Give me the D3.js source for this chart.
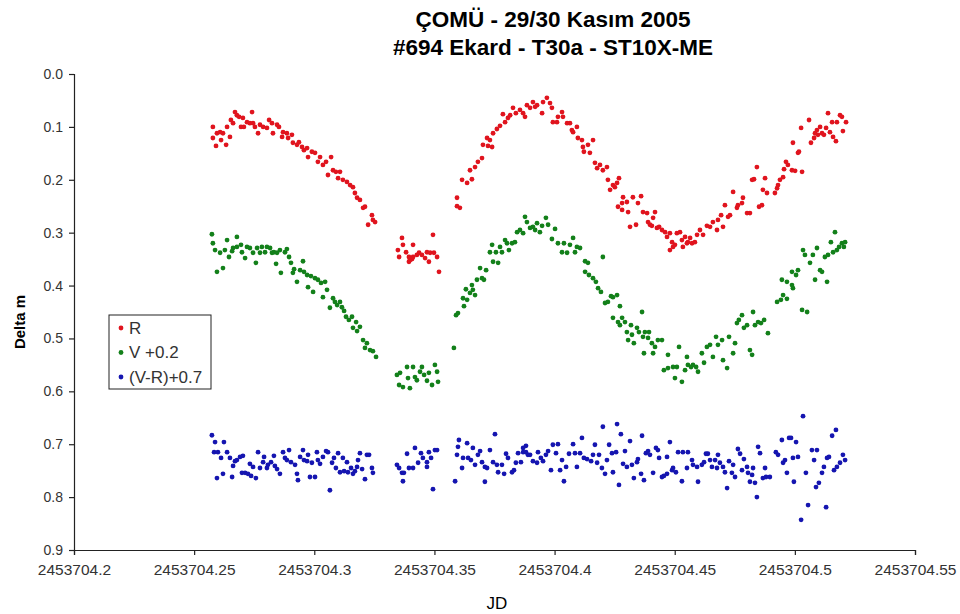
<!DOCTYPE html>
<html><head><meta charset="utf-8">
<script src="https://cdn.jsdelivr.net/npm/d3@7"></script>
<style>body{margin:0;background:#fff;} svg text{font-family:Arial,"Liberation Sans",sans-serif;}</style>
</head><body><svg id="c" width="960" height="614"></svg>
<script>
const titleLines = ["ÇOMÜ - 29/30 Kasım 2005", "#694 Ekard - T30a - ST10X-ME"];
const xTitle = "JD";
const yTitle = "Delta m";
const xTicks = [2453704.2, 2453704.25, 2453704.3, 2453704.35, 2453704.4, 2453704.45, 2453704.5, 2453704.55];
const yTicks = [0.0, 0.1, 0.2, 0.3, 0.4, 0.5, 0.6, 0.7, 0.8, 0.9];
const seriesNames = ["R", "V +0.2", "(V-R)+0.7"];

// R  [JD, delta m]
const rData = [
[2453704.2578,0.100],[2453704.2578,0.121],[2453704.2591,0.136],[2453704.2595,0.112],[2453704.2608,0.110],[2453704.2612,0.125],[2453704.2620,0.112],[2453704.2633,0.134],[2453704.2637,0.100],[2453704.2649,0.119],
[2453704.2653,0.087],[2453704.2662,0.093],[2453704.2670,0.072],[2453704.2678,0.078],[2453704.2687,0.081],[2453704.2695,0.100],[2453704.2703,0.083],[2453704.2707,0.100],[2453704.2720,0.091],[2453704.2732,0.093],
[2453704.2741,0.072],[2453704.2745,0.093],[2453704.2753,0.100],[2453704.2766,0.112],[2453704.2774,0.096],[2453704.2787,0.100],[2453704.2803,0.102],[2453704.2812,0.087],[2453704.2824,0.093],[2453704.2828,0.112],
[2453704.2845,0.096],[2453704.2853,0.100],[2453704.2866,0.119],[2453704.2870,0.110],[2453704.2886,0.112],[2453704.2891,0.121],[2453704.2907,0.115],[2453704.2911,0.130],[2453704.2928,0.134],[2453704.2936,0.129],
[2453704.2949,0.138],[2453704.2957,0.144],[2453704.2970,0.140],[2453704.2974,0.157],[2453704.2990,0.147],[2453704.3003,0.149],[2453704.3015,0.166],[2453704.3024,0.157],[2453704.3036,0.172],[2453704.3049,0.166],
[2453704.3057,0.191],[2453704.3070,0.157],[2453704.3078,0.182],[2453704.3090,0.185],[2453704.3099,0.197],[2453704.3107,0.185],[2453704.3119,0.200],[2453704.3136,0.204],[2453704.3149,0.210],[2453704.3161,0.214],
[2453704.3169,0.225],[2453704.3178,0.234],[2453704.3190,0.238],[2453704.3203,0.253],[2453704.3211,0.251],[2453704.3224,0.285],[2453704.3240,0.267],[2453704.3244,0.276],[2453704.3253,0.280],
[2453704.3365,0.310],[2453704.3369,0.323],[2453704.3348,0.333],[2453704.3353,0.346],[2453704.3382,0.337],[2453704.3398,0.352],[2453704.3394,0.346],[2453704.3411,0.323],[2453704.3411,0.346],[2453704.3427,0.342],
[2453704.3436,0.338],[2453704.3448,0.342],[2453704.3461,0.348],[2453704.3469,0.337],[2453704.3477,0.355],[2453704.3482,0.338],[2453704.3494,0.304],[2453704.3498,0.338],[2453704.3511,0.346],[2453704.3519,0.374],
[2453704.3394,0.355],[2453704.3407,0.350],
[2453704.3594,0.234],[2453704.3594,0.250],[2453704.3606,0.253],[2453704.3615,0.200],[2453704.3636,0.206],[2453704.3656,0.199],[2453704.3648,0.182],[2453704.3669,0.176],[2453704.3681,0.166],[2453704.3698,0.159],
[2453704.3702,0.134],[2453704.3723,0.136],[2453704.3740,0.138],[2453704.3719,0.121],[2453704.3731,0.125],[2453704.3744,0.112],[2453704.3760,0.104],[2453704.3773,0.098],[2453704.3785,0.076],[2453704.3794,0.091],
[2453704.3806,0.083],[2453704.3815,0.078],[2453704.3827,0.064],[2453704.3839,0.074],[2453704.3856,0.068],[2453704.3869,0.074],[2453704.3877,0.081],[2453704.3885,0.059],[2453704.3898,0.064],[2453704.3910,0.053],
[2453704.3919,0.062],[2453704.3927,0.059],[2453704.3948,0.074],[2453704.3952,0.053],[2453704.3968,0.045],[2453704.3981,0.055],[2453704.3989,0.064],[2453704.3993,0.091],[2453704.4010,0.091],[2453704.4014,0.081],
[2453704.4031,0.072],[2453704.4035,0.081],[2453704.4052,0.093],[2453704.4064,0.093],[2453704.4072,0.106],[2453704.4077,0.110],[2453704.4093,0.100],[2453704.4097,0.121],[2453704.4114,0.125],[2453704.4118,0.138],
[2453704.4122,0.147],[2453704.4139,0.134],[2453704.4147,0.149],[2453704.4160,0.125],[2453704.4168,0.168],[2453704.4177,0.178],[2453704.4189,0.172],[2453704.4201,0.182],[2453704.4218,0.176],[2453704.4222,0.200],
[2453704.4231,0.219],[2453704.4243,0.210],[2453704.4260,0.206],[2453704.4268,0.197],[2453704.4264,0.251],[2453704.4281,0.244],[2453704.4285,0.233],[2453704.4301,0.242],[2453704.4306,0.261],[2453704.4314,0.289],
[2453704.4326,0.233],[2453704.4339,0.285],[2453704.4347,0.244],[2453704.4251,0.214],[2453704.4281,0.257],
[2453704.4360,0.231],[2453704.4368,0.261],[2453704.4385,0.263],[2453704.4389,0.280],[2453704.4397,0.285],[2453704.4410,0.272],[2453704.4418,0.261],[2453704.4405,0.287],[2453704.4426,0.291],[2453704.4435,0.289],
[2453704.4447,0.295],[2453704.4460,0.299],[2453704.4468,0.308],[2453704.4480,0.301],[2453704.4489,0.318],[2453704.4493,0.327],[2453704.4509,0.301],[2453704.4522,0.299],[2453704.4530,0.314],[2453704.4543,0.308],
[2453704.4551,0.320],[2453704.4564,0.310],[2453704.4555,0.318],[2453704.4480,0.333],[2453704.4501,0.323],[2453704.4534,0.327],[2453704.4572,0.320],[2453704.4584,0.318],[2453704.4593,0.304],[2453704.4605,0.295],
[2453704.4618,0.304],[2453704.4634,0.287],[2453704.4647,0.289],[2453704.4659,0.280],[2453704.4676,0.295],[2453704.4680,0.276],[2453704.4693,0.267],[2453704.4701,0.289],[2453704.4709,0.248],[2453704.4722,0.270],
[2453704.4730,0.267],[2453704.4743,0.223],[2453704.4759,0.253],[2453704.4763,0.248],[2453704.4780,0.244],[2453704.4784,0.234],[2453704.4801,0.263],[2453704.4813,0.263],[2453704.4822,0.200],[2453704.4830,0.199],
[2453704.4842,0.176],[2453704.4851,0.251],[2453704.4863,0.248],[2453704.4867,0.219],[2453704.4876,0.197],[2453704.4884,0.225],[2453704.4917,0.225],[2453704.4926,0.216],[2453704.4930,0.210],[2453704.4938,0.200],
[2453704.4951,0.195],[2453704.4955,0.180],[2453704.4963,0.166],[2453704.4971,0.172],[2453704.4988,0.182],[2453704.5001,0.183],[2453704.4992,0.130],[2453704.5013,0.149],[2453704.5017,0.147],[2453704.5030,0.185],
[2453704.5026,0.102],[2453704.5059,0.087],[2453704.5067,0.130],[2453704.5080,0.121],[2453704.5084,0.112],[2453704.5092,0.106],[2453704.5096,0.115],[2453704.5105,0.100],[2453704.5113,0.112],[2453704.5121,0.115],
[2453704.5130,0.102],[2453704.5138,0.074],[2453704.5146,0.110],[2453704.5155,0.091],[2453704.5159,0.119],[2453704.5171,0.127],[2453704.5175,0.091],[2453704.5188,0.078],[2453704.5196,0.081],[2453704.5200,0.108],
[2453704.5213,0.091]
];

// V +0.2  [JD, delta m]
const vData = [
[2453704.2574,0.303],[2453704.2578,0.320],[2453704.2587,0.333],[2453704.2595,0.374],[2453704.2608,0.338],[2453704.2620,0.367],[2453704.2628,0.333],[2453704.2637,0.314],[2453704.2645,0.346],[2453704.2658,0.335],
[2453704.2662,0.329],[2453704.2678,0.308],[2453704.2678,0.327],[2453704.2695,0.323],[2453704.2699,0.337],[2453704.2712,0.348],[2453704.2720,0.327],[2453704.2732,0.329],[2453704.2745,0.338],[2453704.2757,0.357],
[2453704.2762,0.329],[2453704.2774,0.338],[2453704.2782,0.327],[2453704.2795,0.337],[2453704.2803,0.327],[2453704.2816,0.329],[2453704.2824,0.338],[2453704.2832,0.337],[2453704.2841,0.359],[2453704.2845,0.338],
[2453704.2857,0.333],[2453704.2861,0.376],[2453704.2878,0.337],[2453704.2886,0.331],[2453704.2895,0.346],[2453704.2903,0.357],[2453704.2911,0.376],[2453704.2916,0.369],[2453704.2928,0.393],[2453704.2941,0.371],
[2453704.2953,0.354],[2453704.2957,0.374],[2453704.2970,0.380],[2453704.2974,0.403],[2453704.2986,0.382],[2453704.2995,0.412],[2453704.3003,0.386],[2453704.3015,0.389],[2453704.3028,0.395],[2453704.3036,0.422],
[2453704.3045,0.393],[2453704.3053,0.408],[2453704.3065,0.442],[2453704.3078,0.424],[2453704.3086,0.431],[2453704.3095,0.437],[2453704.3107,0.431],[2453704.3115,0.441],[2453704.3124,0.448],[2453704.3132,0.459],
[2453704.3144,0.465],[2453704.3157,0.459],[2453704.3161,0.480],[2453704.3174,0.469],[2453704.3178,0.486],[2453704.3190,0.478],[2453704.3203,0.503],[2453704.3219,0.509],[2453704.3211,0.518],[2453704.3232,0.522],
[2453704.3244,0.524],[2453704.3257,0.535],
[2453704.3344,0.569],[2453704.3357,0.565],[2453704.3353,0.588],[2453704.3369,0.592],[2453704.3386,0.554],[2453704.3390,0.575],[2453704.3398,0.594],[2453704.3411,0.554],[2453704.3419,0.573],[2453704.3427,0.579],
[2453704.3440,0.563],[2453704.3448,0.554],[2453704.3457,0.569],[2453704.3469,0.580],[2453704.3477,0.565],[2453704.3490,0.588],[2453704.3502,0.550],[2453704.3511,0.563],[2453704.3515,0.582],
[2453704.3581,0.518],[2453704.3590,0.456],[2453704.3598,0.452],[2453704.3619,0.424],[2453704.3623,0.439],[2453704.3631,0.407],[2453704.3636,0.427],[2453704.3648,0.414],[2453704.3656,0.399],[2453704.3660,0.408],
[2453704.3669,0.418],[2453704.3677,0.389],[2453704.3690,0.367],[2453704.3698,0.386],[2453704.3706,0.389],[2453704.3715,0.371],[2453704.3731,0.337],[2453704.3740,0.323],[2453704.3744,0.355],[2453704.3756,0.337],
[2453704.3765,0.357],[2453704.3773,0.327],[2453704.3781,0.337],[2453704.3794,0.314],[2453704.3802,0.320],[2453704.3810,0.333],[2453704.3823,0.320],[2453704.3835,0.318],[2453704.3844,0.299],[2453704.3856,0.295],
[2453704.3869,0.301],[2453704.3877,0.270],[2453704.3885,0.280],[2453704.3898,0.291],[2453704.3910,0.289],[2453704.3919,0.295],[2453704.3927,0.282],[2453704.3939,0.299],[2453704.3948,0.287],[2453704.3964,0.272],
[2453704.3973,0.285],[2453704.3989,0.312],[2453704.4002,0.293],[2453704.4014,0.320],[2453704.4031,0.337],[2453704.4039,0.320],[2453704.4052,0.338],[2453704.4064,0.323],[2453704.4077,0.310],[2453704.4085,0.337],
[2453704.4093,0.327],[2453704.4106,0.329],[2453704.4127,0.354],[2453704.4139,0.357],[2453704.4127,0.374],[2453704.4143,0.380],[2453704.4160,0.386],[2453704.4172,0.393],[2453704.4181,0.405],[2453704.4193,0.412],
[2453704.4201,0.346],[2453704.4210,0.433],[2453704.4222,0.431],[2453704.4235,0.420],[2453704.4243,0.422],[2453704.4260,0.418],[2453704.4272,0.439],[2453704.4243,0.461],[2453704.4264,0.469],[2453704.4281,0.461],
[2453704.4293,0.469],[2453704.4272,0.475],[2453704.4301,0.488],[2453704.4318,0.475],[2453704.4322,0.493],[2453704.4343,0.480],[2453704.4351,0.488],[2453704.4306,0.503],[2453704.4330,0.509],[2453704.4364,0.450],
[2453704.4368,0.497],[2453704.4376,0.488],[2453704.4389,0.499],[2453704.4393,0.488],[2453704.4405,0.509],[2453704.4418,0.516],[2453704.4372,0.528],[2453704.4410,0.528],[2453704.4430,0.503],[2453704.4447,0.503],
[2453704.4472,0.531],[2453704.4455,0.560],[2453704.4472,0.556],[2453704.4493,0.554],[2453704.4501,0.575],[2453704.4509,0.554],[2453704.4518,0.516],[2453704.4530,0.582],[2453704.4543,0.560],[2453704.4551,0.535],
[2453704.4555,0.550],[2453704.4568,0.554],[2453704.4576,0.550],[2453704.4589,0.554],[2453704.4597,0.563],[2453704.4613,0.528],[2453704.4622,0.546],[2453704.4634,0.516],[2453704.4647,0.512],[2453704.4659,0.535],
[2453704.4672,0.497],[2453704.4680,0.512],[2453704.4697,0.503],[2453704.4701,0.541],[2453704.4718,0.556],[2453704.4726,0.497],[2453704.4743,0.528],[2453704.4751,0.509],[2453704.4759,0.471],[2453704.4767,0.465],
[2453704.4780,0.456],[2453704.4788,0.480],[2453704.4801,0.475],[2453704.4813,0.522],[2453704.4822,0.531],[2453704.4826,0.450],[2453704.4834,0.475],[2453704.4847,0.469],[2453704.4859,0.471],[2453704.4872,0.465],
[2453704.4888,0.490],[2453704.4926,0.431],[2453704.4942,0.427],[2453704.4951,0.418],[2453704.4967,0.425],[2453704.4946,0.389],[2453704.4967,0.393],[2453704.4988,0.399],[2453704.4992,0.405],[2453704.4988,0.374],
[2453704.5005,0.380],[2453704.5013,0.371],[2453704.5030,0.446],[2453704.5051,0.450],[2453704.5034,0.333],[2453704.5042,0.342],[2453704.5063,0.357],[2453704.5075,0.342],[2453704.5092,0.329],[2453704.5084,0.389],
[2453704.5105,0.371],[2453704.5113,0.374],[2453704.5125,0.346],[2453704.5134,0.393],[2453704.5138,0.342],[2453704.5150,0.318],[2453704.5159,0.337],[2453704.5167,0.299],[2453704.5175,0.333],[2453704.5184,0.327],
[2453704.5196,0.320],[2453704.5204,0.327],[2453704.5209,0.318]
];

// (V-R)+0.7  [JD, delta m]
const cData = [
[2453704.2574,0.683],[2453704.2587,0.696],[2453704.2624,0.696],[2453704.2583,0.715],[2453704.2599,0.715],[2453704.2612,0.726],[2453704.2637,0.715],[2453704.2595,0.764],[2453704.2620,0.756],[2453704.2649,0.726],
[2453704.2658,0.762],[2453704.2662,0.741],[2453704.2670,0.732],[2453704.2678,0.730],[2453704.2691,0.724],[2453704.2703,0.722],[2453704.2699,0.754],[2453704.2712,0.754],[2453704.2724,0.756],[2453704.2732,0.737],
[2453704.2737,0.760],[2453704.2745,0.743],[2453704.2757,0.764],[2453704.2766,0.715],[2453704.2774,0.745],[2453704.2787,0.734],[2453704.2791,0.724],[2453704.2803,0.745],[2453704.2807,0.739],[2453704.2820,0.734],
[2453704.2832,0.722],[2453704.2836,0.741],[2453704.2845,0.747],[2453704.2857,0.756],[2453704.2870,0.715],[2453704.2878,0.726],[2453704.2886,0.730],[2453704.2895,0.711],[2453704.2903,0.734],[2453704.2920,0.739],
[2453704.2928,0.756],[2453704.2932,0.768],[2453704.2941,0.724],[2453704.2953,0.711],[2453704.2957,0.730],[2453704.2970,0.732],[2453704.2974,0.720],[2453704.2982,0.762],[2453704.2990,0.735],[2453704.3003,0.762],
[2453704.3011,0.715],[2453704.3015,0.730],[2453704.3024,0.737],[2453704.3036,0.724],[2453704.3049,0.713],[2453704.3057,0.715],[2453704.3065,0.787],[2453704.3074,0.735],[2453704.3082,0.726],[2453704.3090,0.745],
[2453704.3099,0.717],[2453704.3107,0.753],[2453704.3119,0.726],[2453704.3124,0.751],[2453704.3136,0.734],[2453704.3140,0.753],[2453704.3153,0.745],[2453704.3161,0.756],[2453704.3169,0.751],[2453704.3178,0.743],
[2453704.3182,0.730],[2453704.3190,0.717],[2453704.3199,0.747],[2453704.3211,0.766],[2453704.3219,0.720],[2453704.3228,0.720],[2453704.3240,0.745],[2453704.3244,0.754],
[2453704.3344,0.739],[2453704.3353,0.745],[2453704.3365,0.754],[2453704.3373,0.754],[2453704.3369,0.770],[2453704.3386,0.718],[2453704.3394,0.745],[2453704.3411,0.745],[2453704.3419,0.707],[2453704.3432,0.735],
[2453704.3444,0.717],[2453704.3452,0.726],[2453704.3469,0.743],[2453704.3469,0.734],[2453704.3477,0.715],[2453704.3486,0.726],[2453704.3494,0.785],[2453704.3502,0.711],[2453704.3511,0.711],
[2453704.3586,0.770],[2453704.3594,0.720],[2453704.3598,0.705],[2453704.3602,0.692],[2453704.3615,0.745],[2453704.3619,0.726],[2453704.3636,0.698],[2453704.3640,0.726],[2453704.3652,0.730],[2453704.3660,0.707],
[2453704.3669,0.739],[2453704.3681,0.720],[2453704.3690,0.713],[2453704.3698,0.734],[2453704.3710,0.743],[2453704.3710,0.771],[2453704.3719,0.745],[2453704.3731,0.711],[2453704.3752,0.681],[2453704.3744,0.734],
[2453704.3760,0.739],[2453704.3765,0.753],[2453704.3781,0.739],[2453704.3790,0.756],[2453704.3798,0.718],[2453704.3806,0.726],[2453704.3823,0.753],[2453704.3831,0.749],[2453704.3839,0.735],[2453704.3848,0.717],
[2453704.3860,0.734],[2453704.3869,0.715],[2453704.3881,0.703],[2453704.3889,0.720],[2453704.3869,0.707],[2453704.3881,0.715],[2453704.3898,0.720],[2453704.3910,0.732],[2453704.3927,0.735],[2453704.3931,0.715],
[2453704.3943,0.726],[2453704.3952,0.732],[2453704.3964,0.720],[2453704.3973,0.713],[2453704.3985,0.749],[2453704.3993,0.701],[2453704.4006,0.717],[2453704.4014,0.700],[2453704.4023,0.749],[2453704.4031,0.730],
[2453704.4039,0.770],[2453704.4048,0.743],[2453704.4060,0.718],[2453704.4077,0.700],[2453704.4085,0.717],[2453704.4093,0.743],[2453704.4106,0.717],[2453704.4114,0.688],[2453704.4122,0.726],[2453704.4135,0.728],
[2453704.4152,0.732],[2453704.4160,0.720],[2453704.4168,0.701],[2453704.4177,0.735],[2453704.4185,0.720],[2453704.4201,0.667],[2453704.4197,0.745],[2453704.4210,0.756],[2453704.4218,0.730],[2453704.4227,0.701],
[2453704.4239,0.717],[2453704.4243,0.753],[2453704.4256,0.715],[2453704.4260,0.662],[2453704.4268,0.777],[2453704.4276,0.681],[2453704.4285,0.737],[2453704.4293,0.713],[2453704.4301,0.743],[2453704.4314,0.694],
[2453704.4322,0.739],[2453704.4330,0.764],[2453704.4343,0.734],[2453704.4347,0.728],[2453704.4360,0.756],[2453704.4364,0.684],[2453704.4372,0.768],[2453704.4380,0.717],[2453704.4389,0.713],[2453704.4397,0.720],
[2453704.4410,0.754],[2453704.4422,0.707],[2453704.4430,0.711],[2453704.4435,0.726],[2453704.4447,0.762],[2453704.4455,0.760],[2453704.4468,0.756],[2453704.4468,0.724],[2453704.4480,0.696],[2453704.4489,0.749],
[2453704.4493,0.745],[2453704.4505,0.753],[2453704.4514,0.715],[2453704.4530,0.770],[2453704.4534,0.715],[2453704.4551,0.745],[2453704.4555,0.715],[2453704.4572,0.730],[2453704.4576,0.739],[2453704.4593,0.743],
[2453704.4597,0.771],[2453704.4613,0.739],[2453704.4622,0.734],[2453704.4630,0.718],[2453704.4638,0.718],[2453704.4647,0.730],[2453704.4655,0.743],[2453704.4668,0.730],[2453704.4676,0.745],[2453704.4680,0.720],
[2453704.4688,0.735],[2453704.4701,0.743],[2453704.4709,0.753],[2453704.4718,0.783],[2453704.4726,0.732],[2453704.4738,0.754],[2453704.4743,0.739],[2453704.4751,0.762],[2453704.4763,0.709],[2453704.4772,0.718],
[2453704.4780,0.749],[2453704.4788,0.728],[2453704.4801,0.743],[2453704.4805,0.754],[2453704.4813,0.771],[2453704.4822,0.758],[2453704.4826,0.745],[2453704.4834,0.773],[2453704.4842,0.800],[2453704.4847,0.705],
[2453704.4855,0.717],[2453704.4867,0.764],[2453704.4876,0.745],[2453704.4880,0.762],[2453704.4896,0.762],[2453704.4921,0.715],[2453704.4930,0.720],[2453704.4946,0.692],[2453704.4951,0.735],[2453704.4959,0.730],
[2453704.4967,0.754],[2453704.4976,0.688],[2453704.4984,0.688],[2453704.4992,0.726],[2453704.4996,0.771],[2453704.5005,0.696],[2453704.5013,0.724],[2453704.5026,0.843],[2453704.5034,0.647],[2453704.5046,0.754],
[2453704.5055,0.815],[2453704.5071,0.711],[2453704.5080,0.730],[2453704.5088,0.781],[2453704.5092,0.711],[2453704.5100,0.773],[2453704.5113,0.754],[2453704.5121,0.743],[2453704.5130,0.819],[2453704.5134,0.726],
[2453704.5142,0.724],[2453704.5155,0.684],[2453704.5163,0.749],[2453704.5171,0.673],[2453704.5175,0.743],[2453704.5188,0.735],[2453704.5200,0.720],[2453704.5209,0.730]
];

const seriesData = [rData, vData, cData];
const seriesColors = ["#e0141e", "#13801a", "#1515b0"];

const svg = d3.select("#c");
const W = 960, H = 614;
svg.append("rect").attr("width", W).attr("height", H).attr("fill", "#fff");

const x = d3.scaleLinear().domain([xTicks[0], xTicks[xTicks.length - 1]]).range([74, 915]);
const y = d3.scaleLinear().domain([yTicks[0], yTicks[yTicks.length - 1]]).range([74, 550]);

// axes
const gx = svg.append("g").attr("transform", `translate(0,${y(yTicks[yTicks.length - 1])})`)
  .call(d3.axisBottom(x).tickValues(xTicks).tickFormat(d3.format(".2~f")).tickSize(5).tickPadding(9));
const gy = svg.append("g").attr("transform", `translate(${x(xTicks[0])},0)`)
  .call(d3.axisLeft(y).tickValues(yTicks).tickFormat(d3.format(".1f")).tickSize(5).tickPadding(6));
[gx, gy].forEach(g => {
  g.select(".domain").attr("stroke", "#222").attr("stroke-width", 1.2);
  g.selectAll(".tick line").attr("stroke", "#222").attr("stroke-width", 1.2);
  g.selectAll(".tick text").attr("fill", "#333")
    .style("font-family", "Arial, 'Liberation Sans', sans-serif");
});
gy.selectAll(".tick text").style("font-size", "14px");
gx.selectAll(".tick text").style("font-size", "15.5px");

// points
seriesData.forEach((data, i) => {
  svg.append("g").selectAll("circle").data(data).join("circle")
    .attr("cx", d => x(d[0])).attr("cy", d => y(d[1])).attr("r", 2.4)
    .attr("fill", seriesColors[i]);
});

// titles
svg.append("g").selectAll("text").data(titleLines).join("text")
  .attr("x", 553).attr("y", (d, i) => 27 + i * 28)
  .attr("text-anchor", "middle").style("font-size", "22.5px").style("font-weight", "bold")
  .attr("fill", "#000").text(d => d);

svg.append("text").attr("x", 497).attr("y", 609).attr("text-anchor", "middle")
  .style("font-size", "17px").attr("fill", "#000").text(xTitle);
svg.append("text").attr("transform", "translate(25,322) rotate(-90)").attr("text-anchor", "middle")
  .style("font-size", "15px").style("font-weight", "bold").attr("fill", "#000").text(yTitle);

// legend
const lg = svg.append("g").attr("transform", "translate(109,315)");
lg.append("rect").attr("width", 102).attr("height", 74).attr("fill", "#fff").attr("stroke", "#222").attr("stroke-width", 1);
seriesNames.forEach((n, i) => {
  lg.append("circle").attr("cx", 12).attr("cy", 13 + i * 24.5).attr("r", 2.4).attr("fill", seriesColors[i]);
  lg.append("text").attr("x", 20).attr("y", 13 + i * 24.5).attr("dy", "0.35em")
    .style("font-size", "17px").attr("fill", "#333").text(n);
});
</script>
</body></html>
